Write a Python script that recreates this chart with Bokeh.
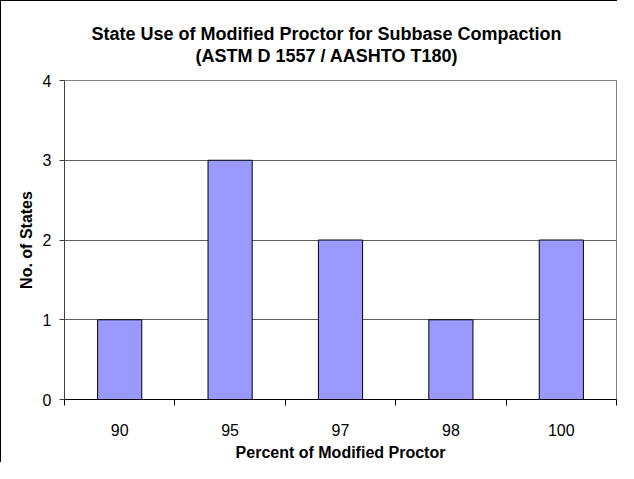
import numpy as np
from bokeh.plotting import figure
from bokeh.models import FixedTicker, Range1d, ColumnDataSource, Title
from bokeh.embed import file_html
from bokeh.resources import INLINE

# ---- data ----
categories = ["90", "95", "97", "98", "100"]
counts = [1, 3, 2, 1, 2]
y_ticks = [0, 1, 2, 3, 4]
title_line1 = "State Use of Modified Proctor for Subbase Compaction"
title_line2 = "(ASTM D 1557 / AASHTO T180)"
x_title = "Percent of Modified Proctor"
y_title = "No. of States"

FONT = "Liberation Sans"

n = len(categories)
centers = list(np.arange(n) + 0.5)
bounds = list(np.arange(n + 1).astype(float))

src = ColumnDataSource(dict(x=centers, top=counts, cat=categories))

p = figure(width=617, height=462, output_backend="svg", toolbar_location=None,
           title=None,
           x_range=Range1d(0, n), y_range=Range1d(0, 4),
           min_border_left=63, min_border_right=2, min_border_top=75,
           min_border_bottom=63)

p.styles = {"border-left": "1px solid black", "border-top": "1px solid black"}

p.vbar(x="x", top="top", width=0.4, source=src, fill_color="#9999FF",
       line_color="black", line_width=1)

# titles: first added sits closest to the frame
def spacer(gap):
    return Title(text=" ", text_font_size="1px", standoff=gap)

def title_line(txt, off):
    return Title(text=txt, align="left", offset=off, text_font=FONT,
                 text_font_style="bold", text_font_size="18px",
                 text_color="black", standoff=0)

p.add_layout(spacer(12), "above")
p.add_layout(title_line(title_line2, 131), "above")
p.add_layout(title_line(title_line1, 27), "above")
p.add_layout(spacer(17), "above")

# x axis
xa = p.xaxis[0]
xa.ticker = FixedTicker(ticks=centers, minor_ticks=bounds)
xa.major_label_overrides = {c: lab for c, lab in zip(centers, categories)}
xa.major_tick_line_color = None
xa.major_tick_out = 0
xa.major_tick_in = 0
xa.minor_tick_out = 6
xa.minor_tick_in = 0
xa.minor_tick_line_color = "black"
xa.axis_line_color = "black"
xa.major_label_text_font = FONT
xa.major_label_text_font_size = "16px"
xa.major_label_text_color = "black"
xa.major_label_standoff = 18
xa.axis_label = x_title
xa.axis_label_text_font = FONT
xa.axis_label_text_font_style = "bold"
xa.axis_label_text_font_size = "16px"
xa.axis_label_text_color = "black"
xa.axis_label_standoff = 5

# y axis
ya = p.yaxis[0]
ya.ticker = FixedTicker(ticks=y_ticks, minor_ticks=[])
ya.major_tick_out = 5
ya.major_tick_in = 0
ya.major_tick_line_color = "#404040"
ya.axis_line_color = "#404040"
ya.minor_tick_line_color = None
ya.major_label_text_font = FONT
ya.major_label_text_font_size = "16px"
ya.major_label_text_color = "black"
ya.major_label_standoff = 8
ya.axis_label = y_title
ya.axis_label_text_font = FONT
ya.axis_label_text_font_style = "bold"
ya.axis_label_text_font_size = "16px"
ya.axis_label_text_color = "black"
ya.axis_label_standoff = 5

p.xgrid.grid_line_color = None
p.ygrid.grid_line_color = "#606060"
p.ygrid.grid_line_width = 1
p.outline_line_color = "#808080"
p.background_fill_color = "white"
p.border_fill_color = "white"

open("out.html", "w").write(file_html(p, INLINE))
